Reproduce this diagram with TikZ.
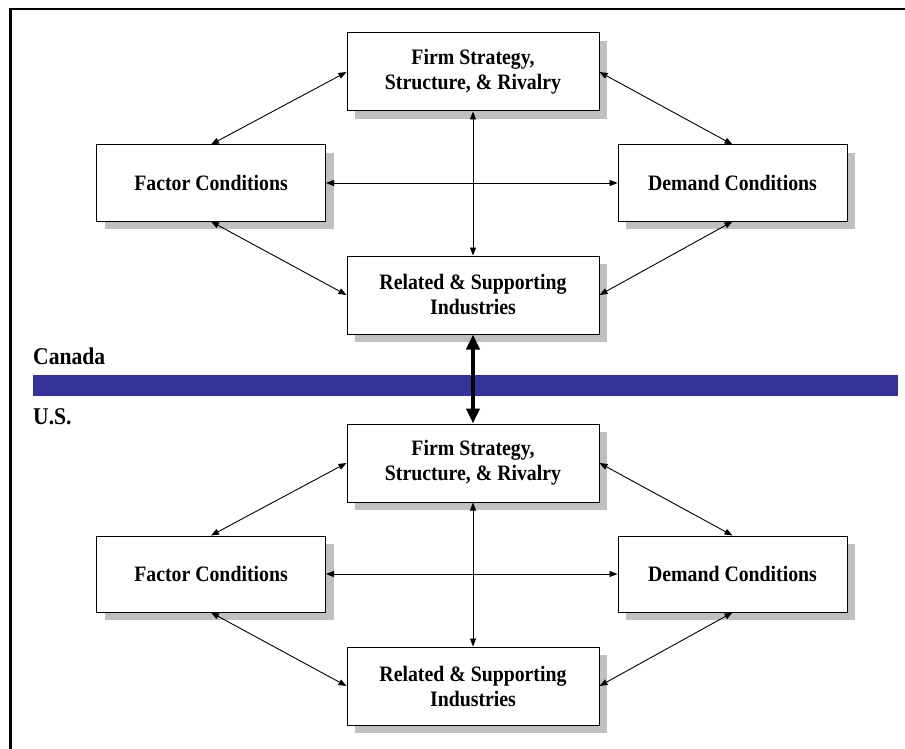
\documentclass[tikz,border=0pt]{standalone}
\usepackage{fontspec}
\setmainfont{Liberation Serif}[FakeStretch=0.9]
\usetikzlibrary{arrows.meta,shadows}
\definecolor{barblue}{HTML}{333399}
\definecolor{shadowgray}{HTML}{C0C0C0}
\begin{document}
\begin{tikzpicture}[x=1pt,y=-1pt,
  box/.style={draw,line width=1pt,fill=white,align=center,inner sep=0pt,
    font=\bfseries\fontsize{22}{25}\selectfont,
    drop shadow={shadow xshift=8pt,shadow yshift=-8pt,fill=shadowgray,opacity=1}},
  wide/.style={minimum width=252pt,minimum height=78pt},
  side/.style={minimum width=229pt,minimum height=76pt},
  link/.style={line width=0.9pt,{Triangle[length=8pt,width=6pt]}-{Triangle[length=8pt,width=6pt]}},
  biglink/.style={line width=4pt,{Triangle[length=15pt,width=13pt]}-{Triangle[length=15pt,width=13pt]}},
  country/.style={anchor=west,inner sep=0pt,font=\bfseries\fontsize{24}{28}\selectfont}
]
\useasboundingbox (0,0) rectangle (905,749);
\draw[line width=2.5pt] (10.5,749) |- (905,9);

% blue border bar
\fill[barblue] (33,375) rectangle (898,396);
\node[country] (can) at (33,356) {Canada};
\node[country] (us) at (33,417) {U.S.};

% Canada diamond
\node[box,wide] (firmA) at (473,72) {Firm Strategy,\\Structure, \& Rivalry};
\node[box,side] (facA) at (211,183) {Factor Conditions};
\node[box,side] (demA) at (732.5,183) {Demand Conditions};
\node[box,wide] (relA) at (473,295) {Related \& Supporting\\Industries};

% U.S. diamond
\node[box,wide] (firmB) at (473,463) {Firm Strategy,\\Structure, \& Rivalry};
\node[box,side] (facB) at (211,574) {Factor Conditions};
\node[box,side] (demB) at (732.5,574) {Demand Conditions};
\node[box,wide] (relB) at (473,686) {Related \& Supporting\\Industries};

\foreach \s in {A,B}{
  \draw[link] (fac\s.north) -- (firm\s.west);
  \draw[link] (firm\s.east) -- (dem\s.north);
  \draw[link] (fac\s.east) -- (dem\s.west);
  \draw[link] (firm\s.south) -- (rel\s.north);
  \draw[link] (fac\s.south) -- (rel\s.west);
  \draw[link] (rel\s.east) -- (dem\s.south);
}

\draw[biglink] (relA.south) -- (firmB.north);
\end{tikzpicture}
\end{document}
